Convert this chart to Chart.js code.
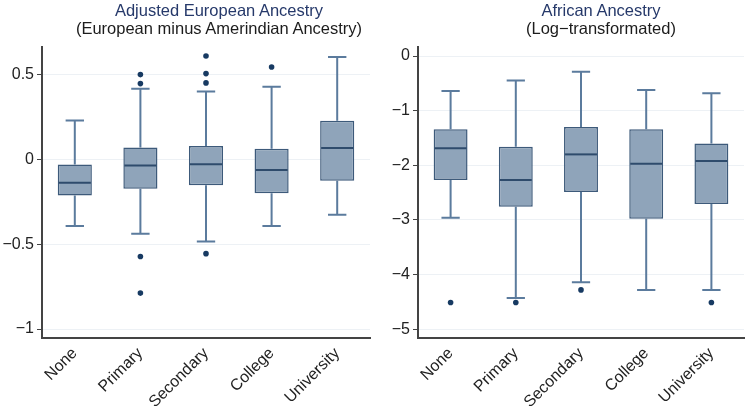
<!DOCTYPE html>
<html>
<head>
<meta charset="utf-8">
<script src="https://cdn.jsdelivr.net/npm/chart.js@4.4.1/dist/chart.umd.min.js"></script>
<style>
    html, body { margin: 0; padding: 0; background: #fff; overflow: hidden; }
    .panel { position: absolute; top: 0; width: 374px; height: 406px; }
    .title {
        position: absolute; top: 2px; text-align: center; white-space: nowrap;
        font-family: "Liberation Sans", Arial, sans-serif; font-size: 16.5px; line-height: 17.5px;
    }
    .title .main { color: #26396a; }
    .title .sub { color: #1c1c1c; }
</style>
</head>
<body>
<div class="panel" style="left:0"><canvas id="eurChart" width="374" height="406"></canvas></div>
<div class="panel" style="left:374px"><canvas id="afrChart" width="374" height="406"></canvas></div>
<div class="title" style="left:0;width:438px">
    <div class="main">Adjusted European Ancestry</div>
    <div class="sub">(European minus Amerindian Ancestry)</div>
</div>
<div class="title" style="left:454px;width:294px">
    <div class="main">African Ancestry</div>
    <div class="sub">(Log&#8722;transformated)</div>
</div>
<script>
const categories = ["None", "Primary", "Secondary", "College", "University"];

/* ---- left panel: adjusted European ancestry ---- */
const eurTicks = [0.5, 0, -0.5, -1];
const eurLow = [-0.392, -0.437, -0.484, -0.392, -0.325];
const eurQ1 = [-0.212, -0.172, -0.151, -0.198, -0.125];
const eurMedian = [-0.137, -0.035, -0.027, -0.061, 0.069];
const eurQ3 = [-0.029, 0.072, 0.080, 0.065, 0.229];
const eurHigh = [0.231, 0.418, 0.402, 0.431, 0.606];
const eurOutliers = [[], [0.502, 0.449, -0.572, -0.788], [0.612, 0.508, 0.453, -0.555], [0.547], []];

/* ---- right panel: African ancestry (log) ---- */
const afrTicks = [0, -1, -2, -3, -4, -5];
const afrLow = [-2.96, -4.43, -4.14, -4.28, -4.28];
const afrQ1 = [-2.27, -2.76, -2.49, -2.98, -2.71];
const afrMedian = [-1.69, -2.27, -1.80, -1.97, -1.92];
const afrQ3 = [-1.34, -1.66, -1.30, -1.34, -1.60];
const afrHigh = [-0.64, -0.45, -0.29, -0.62, -0.68];
const afrOutliers = [[-4.51], [-4.51], [-4.28], [], [-4.51]];

Chart.defaults.font.family = "'Liberation Sans', Arial, sans-serif";
Chart.defaults.font.size = 16;
Chart.defaults.color = "#222";

// whiskers, caps and median lines drawn through the chart's scales
function boxPlugin(low, median, q1, q3, high) {
    return {
        id: "boxWhiskers",
        beforeDatasetsDraw(chart) {
            const { ctx, scales: { x, y } } = chart;
            const cap = (x.width / categories.length) * 0.14;
            ctx.save();
            ctx.strokeStyle = "#5b7b9d";
            ctx.lineWidth = 2;
            low.forEach((lo, i) => {
                const cx = x.getPixelForValue(i);
                const yLo = y.getPixelForValue(lo);
                const yHi = y.getPixelForValue(high[i]);
                ctx.beginPath();
                ctx.moveTo(cx, yLo); ctx.lineTo(cx, y.getPixelForValue(q1[i]));
                ctx.moveTo(cx, y.getPixelForValue(q3[i])); ctx.lineTo(cx, yHi);
                ctx.moveTo(cx - cap, yLo); ctx.lineTo(cx + cap, yLo);
                ctx.moveTo(cx - cap, yHi); ctx.lineTo(cx + cap, yHi);
                ctx.stroke();
            });
            ctx.restore();
        },
        afterDatasetsDraw(chart) {
            const { ctx, scales: { x, y } } = chart;
            const half = (x.width / categories.length) * 0.26;
            ctx.save();
            ctx.strokeStyle = "#2e4b6c";
            ctx.lineWidth = 2;
            median.forEach((m, i) => {
                const cx = x.getPixelForValue(i);
                const py = y.getPixelForValue(m);
                ctx.beginPath();
                ctx.moveTo(cx - half + 1, py);
                ctx.lineTo(cx + half - 1, py);
                ctx.stroke();
            });
            ctx.restore();
        },
    };
}

const fmt = (v) => (v === 0 ? "0" : String(v).replace("-", "\u2212"));

function makeChart(id, p) {
    const ctx = document.getElementById(id).getContext("2d");
    const outlierPoints = [];
    p.outliers.forEach((list, i) =>
        list.forEach((v) => outlierPoints.push({ x: categories[i], y: v }))
    );

    new Chart(ctx, {
        type: "bar",
        data: {
            labels: categories,
            datasets: [
                {
                    type: "bar",
                    data: categories.map((_, i) => [p.q1[i], p.q3[i]]),
                    backgroundColor: "#8fa4ba",
                    borderColor: "#3d5a7a",
                    borderWidth: 1.5,
                    borderSkipped: false,
                    barPercentage: 0.52,
                    categoryPercentage: 1,
                },
                {
                    type: "line",
                    data: outlierPoints,
                    showLine: false,
                    pointRadius: 2.8,
                    pointBackgroundColor: "#173a62",
                    pointBorderWidth: 0,
                },
            ],
        },
        options: {
            responsive: false,
            animation: false,
            layout: { padding: { top: 47, right: 2, left: 0, bottom: 0 } },
            plugins: { legend: { display: false }, tooltip: { enabled: false } },
            scales: {
                x: {
                    grid: { display: false, drawTicks: false },
                    border: { display: true, color: "#444", width: 2 },
                    ticks: { minRotation: 45, maxRotation: 45, padding: 6, color: "#222" },
                    afterFit: (s) => { s.height = 68; },
                },
                y: {
                    min: p.min,
                    max: p.max,
                    grid: { color: "#edf1f5", tickColor: "#444", tickLength: 5 },
                    border: { display: true, color: "#444", width: 2 },
                    ticks: { padding: 3, color: "#222", callback: fmt },
                    afterBuildTicks: (s) => { s.ticks = p.ticks.map((v) => ({ value: v })); },
                    afterFit: (s) => { s.width = p.axisWidth; },
                },
            },
        },
        plugins: [boxPlugin(p.low, p.median, p.q1, p.q3, p.high)],
    });
}

document.addEventListener("DOMContentLoaded", () => {
    makeChart("eurChart", {
        low: eurLow, q1: eurQ1, median: eurMedian, q3: eurQ3, high: eurHigh,
        outliers: eurOutliers, ticks: eurTicks, min: -1.053, max: 0.665, axisWidth: 42,
    });
    makeChart("afrChart", {
        low: afrLow, q1: afrQ1, median: afrMedian, q3: afrQ3, high: afrHigh,
        outliers: afrOutliers, ticks: afrTicks, min: -5.16, max: 0.165, axisWidth: 44,
    });
});
</script>
</body>
</html>
